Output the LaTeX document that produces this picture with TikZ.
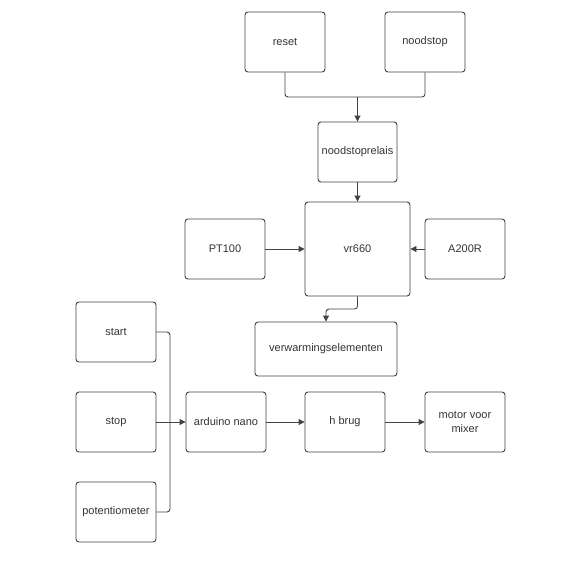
\documentclass[tikz,border=0pt]{standalone}
\usepackage{fontspec}
\setmainfont{Liberation Sans}
\usetikzlibrary{positioning,arrows.meta}
\definecolor{lijn}{RGB}{62,66,74}
\definecolor{tekst}{RGB}{51,51,51}

\begin{document}
\begin{tikzpicture}[x=1pt,y=-1pt,
    blok/.style={draw=lijn,line width=0.9pt,rounded corners=3pt,minimum width=80pt,minimum height=60pt,inner sep=0pt,text=tekst,font=\fontsize{11}{14}\selectfont,align=center},
    pijl/.style={draw=lijn,line width=0.9pt,-{Triangle[length=6pt,width=6pt]}},
    lijnstuk/.style={draw=lijn,line width=0.9pt,rounded corners=3pt}]
    \useasboundingbox (0,0) rectangle (576,563);
    % boven
    \node[blok] (reset) at (285,42) {reset};
    \node[blok] (noodstop) at (425,42) {noodstop};
    \node[blok,minimum width=79pt] (relais) at (357.5,152) {noodstoprelais};
    \node[blok,minimum width=105pt,minimum height=94pt] (vr) at (357.5,249) {vr660};
    \node[blok] (pt) at (225,249) {PT100};
    \node[blok] (a200) at (465,249) {A200R};
    \node[blok,minimum width=142pt,minimum height=54pt] (verw) at (326,349) {verwarmingselementen};
    % onder
    \node[blok] (start) at (116,332) {start};
    \node[blok] (stop) at (116,422) {stop};
    \node[blok] (pot) at (116,512) {potentiometer};
    \node[blok] (nano) at (226,422) {arduino nano};
    \node[blok] (brug) at (345,422) {h brug};
    \node[blok] (motor) at (465,422) {motor voor\\mixer};
    % lijnen boven
    \coordinate (samen) at (357.5,97);
    \draw[lijnstuk] (reset.south) |- (samen);
    \draw[lijnstuk] (noodstop.south) |- (samen);
    \draw[pijl] (samen) -- (relais.north);
    \draw[pijl] (relais) -- (vr);
    \draw[pijl] (pt) -- (vr);
    \draw[pijl] (a200) -- (vr);
    \coordinate (knik) at (357.5,309);
    \draw[pijl,rounded corners=3pt] (vr.south) -- (knik) -| (verw.north);
    % lijnen onder
    \coordinate (bus) at (170,422);
    \draw[lijnstuk] (start.east) -| (bus);
    \draw[lijnstuk] (pot.east) -| (bus);
    \draw[pijl] (stop) -- (nano);
    \draw[pijl] (nano) -- (brug);
    \draw[pijl] (brug) -- (motor);
\end{tikzpicture}
\end{document}
